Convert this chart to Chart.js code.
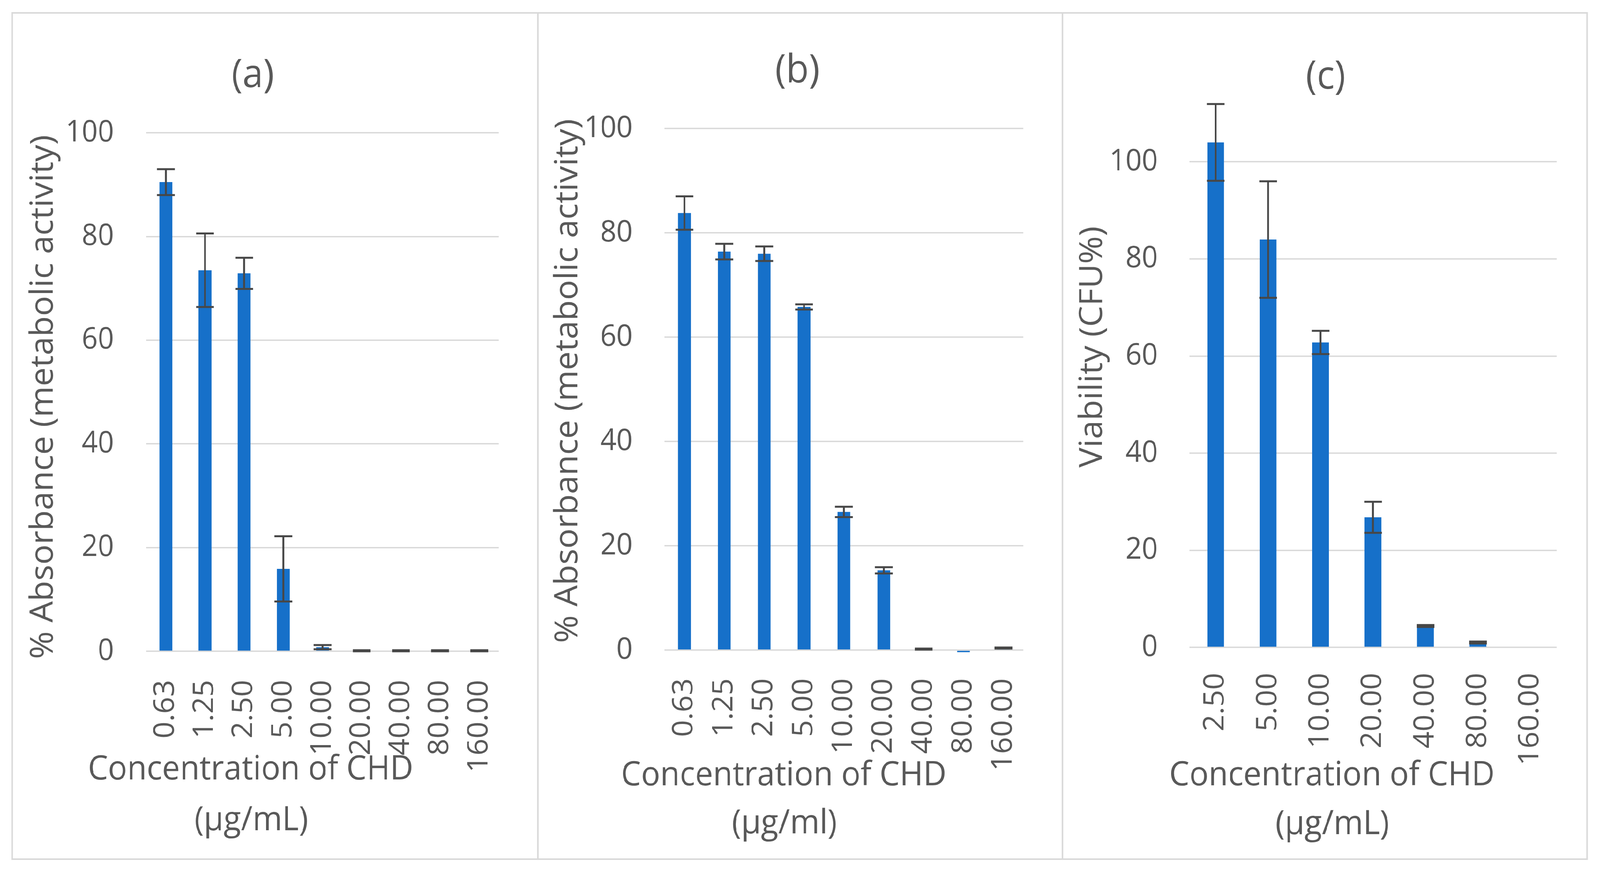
<!DOCTYPE html>
<html>
<head>
<meta charset="utf-8">
<script src="https://cdn.jsdelivr.net/npm/chart.js@4.4.1/dist/chart.umd.min.js"></script>
<style>
  html, body { margin: 0; padding: 0; background: #fff; overflow: hidden; }
  #holder { position: relative; overflow: hidden; background: #fff; }
  #page { position: absolute; left: 0; top: 0; width: 4310px; height: 2237px; background: #fff; transform-origin: 0 0; }
  .frame { position: absolute; border: 4px solid #d9d9d9; box-sizing: border-box; }
  .divider { position: absolute; top: 33px; width: 4px; height: 2166px; background: #d9d9d9; }
  canvas { position: absolute; }
</style>
</head>
<body>
<div id="holder">
<div id="page">
  <div class="frame" style="left:31px; top:31px; width:4246px; height:2170px;"></div>
  <div class="divider" style="left:1447px;"></div>
  <div class="divider" style="left:2860px;"></div>
  <canvas id="panelA" width="1414" height="2164" style="left:35px; top:35px;"></canvas>
  <canvas id="panelB" width="1409" height="2164" style="left:1451px; top:35px;"></canvas>
  <canvas id="panelC" width="1411" height="2164" style="left:2864px; top:35px;"></canvas>
</div>
</div>
<script>
// --- data ---
const concAB = ["0.63", "1.25", "2.50", "5.00", "10.00", "20.00", "40.00", "80.00", "160.00"];
const concC = ["2.50", "5.00", "10.00", "20.00", "40.00", "80.00", "160.00"];

const absorbA = [90.5, 73.5, 72.9, 15.9, 0.8, 0.1, 0.1, 0.1, 0.1];
const sdA = [2.5, 7.1, 3.0, 6.3, 0.4, 0.1, 0.1, 0.1, 0.1];

const absorbB = [83.8, 76.4, 76.0, 65.8, 26.5, 15.3, 0.2, -0.4, 0.4];
const sdB = [3.2, 1.5, 1.4, 0.5, 1.0, 0.6, 0.1, 0, 0.1];

const viabilityC = [104.0, 84.0, 62.8, 26.8, 4.4, 1.0, 0];
const sdC = [7.9, 12.0, 2.4, 3.2, 0.2, 0.2, 0];

const TEXT = "#595959";
const BAR = "#1670c9";
const WHISKER = "#474747";
const GRID = "#d9d9d9";
const FONT = "'Open Sans', 'Noto Sans', sans-serif";

// figure is laid out on a 4310x2237 sheet; stretch that sheet onto the real viewport
const sx = window.innerWidth / 4310;
const sy = window.innerHeight / 2237;
const holder = document.getElementById("holder");
holder.style.width = window.innerWidth + "px";
holder.style.height = window.innerHeight + "px";
document.getElementById("page").style.transform = "scale(" + sx + "," + sy + ")";

// error bars (mean +/- sd) drawn through the y scale
const errorBars = {
  id: "errorBars",
  afterDatasetsDraw(chart) {
    const ctx = chart.ctx;
    const y = chart.scales.y;
    chart.data.datasets.forEach((ds, di) => {
      chart.getDatasetMeta(di).data.forEach((bar, i) => {
        const e = ds.errors[i];
        if (!e) return;
        const v = ds.data[i];
        const hi = y.getPixelForValue(v + e);
        const lo = y.getPixelForValue(v - e);
        const half = 24;
        ctx.save();
        ctx.strokeStyle = WHISKER;
        ctx.lineWidth = 5;
        ctx.beginPath();
        ctx.moveTo(bar.x, hi); ctx.lineTo(bar.x, lo);
        ctx.moveTo(bar.x - half, hi); ctx.lineTo(bar.x + half, hi);
        ctx.moveTo(bar.x - half, lo); ctx.lineTo(bar.x + half, lo);
        ctx.stroke();
        ctx.restore();
      });
    });
  }
};

// panel letter and axis titles
const panelText = {
  id: "panelText",
  afterDraw(chart, args, o) {
    const ctx = chart.ctx;
    ctx.save();
    ctx.fillStyle = TEXT;
    ctx.textAlign = "center";
    ctx.textBaseline = "middle";
    ctx.font = "100px " + FONT;
    ctx.fillText(o.title, o.titleAt[0], o.titleAt[1]);
    ctx.font = "86px " + FONT;
    o.xTitle.forEach((t, i) => ctx.fillText(t, o.xTitleAt[i][0], o.xTitleAt[i][1]));
    ctx.translate(o.yTitleAt[0], o.yTitleAt[1]);
    ctx.rotate(-Math.PI / 2);
    ctx.fillText(o.yTitle, 0, 0);
    ctx.restore();
  }
};

function makePanel(id, labels, values, errors, cfg) {
  return new Chart(document.getElementById(id), {
    type: "bar",
    data: {
      labels: labels,
      datasets: [{
        data: values,
        errors: errors,
        backgroundColor: BAR,
        borderWidth: 0,
        categoryPercentage: 1,
        barPercentage: cfg.barPct,
        clip: false
      }]
    },
    options: {
      responsive: false,
      animation: false,
      events: [],
      devicePixelRatio: 1,
      layout: { padding: { left: 0, top: cfg.top, right: cfg.right, bottom: 0 } },
      plugins: {
        legend: { display: false },
        tooltip: { enabled: false },
        panelText: cfg.text
      },
      scales: {
        x: {
          grid: { display: false },
          border: { display: false },
          ticks: {
            autoSkip: false, minRotation: 90, maxRotation: 90,
            padding: cfg.xPad, color: TEXT, font: { size: 76, family: FONT }
          },
          afterFit: s => { s.height = cfg.xHeight; }
        },
        y: {
          min: 0, max: cfg.yMax,
          grid: {
            drawTicks: false, lineWidth: 3.5,
            color: c => (c.tick && c.tick.value > 100) ? "rgba(0,0,0,0)" : GRID
          },
          border: { display: false },
          ticks: {
            stepSize: 20, padding: cfg.yPad, color: TEXT, font: { size: 76, family: FONT },
            callback: v => v > 100 ? "" : v
          },
          afterFit: s => { s.width = cfg.yWidth; }
        }
      }
    },
    plugins: [errorBars, panelText]
  });
}

makePanel("panelA", concAB, absorbA, sdA, {
  barPct: 0.33, top: 305, right: 33, yMax: 100, yWidth: 359, xHeight: 532, yPad: 87, xPad: 65,
  text: {
    title: "(a)", titleAt: [646, 160],
    yTitle: "% Absorbance (metabolic activity)", yTitleAt: [82, 981],
    xTitle: ["Concentration of CHD", "(\u00b5g/mL)"], xTitleAt: [[640, 1935], [642, 2065]]
  }
});

makePanel("panelB", concAB, absorbB, sdB, {
  barPct: 0.32, top: 294, right: 34, yMax: 100, yWidth: 339, xHeight: 535, yPad: 86, xPad: 64,
  text: {
    title: "(b)", titleAt: [697, 148],
    yTitle: "% Absorbance (metabolic activity)", yTitleAt: [79, 940],
    xTitle: ["Concentration of CHD", "(\u00b5g/ml)"], xTitleAt: [[660, 1950], [662, 2073]]
  }
});

makePanel("panelC", concC, viabilityC, sdC, {
  barPct: 0.32, top: 56, right: 58, yMax: 120, yWidth: 340, xHeight: 542, yPad: 85, xPad: 57,
  text: {
    title: "(c)", titleAt: [707, 164],
    yTitle: "Viability (CFU%)", yTitleAt: [79, 853],
    xTitle: ["Concentration of CHD", "(\u00b5g/mL)"], xTitleAt: [[724, 1950], [725, 2075]]
  }
});
</script>
</body>
</html>
